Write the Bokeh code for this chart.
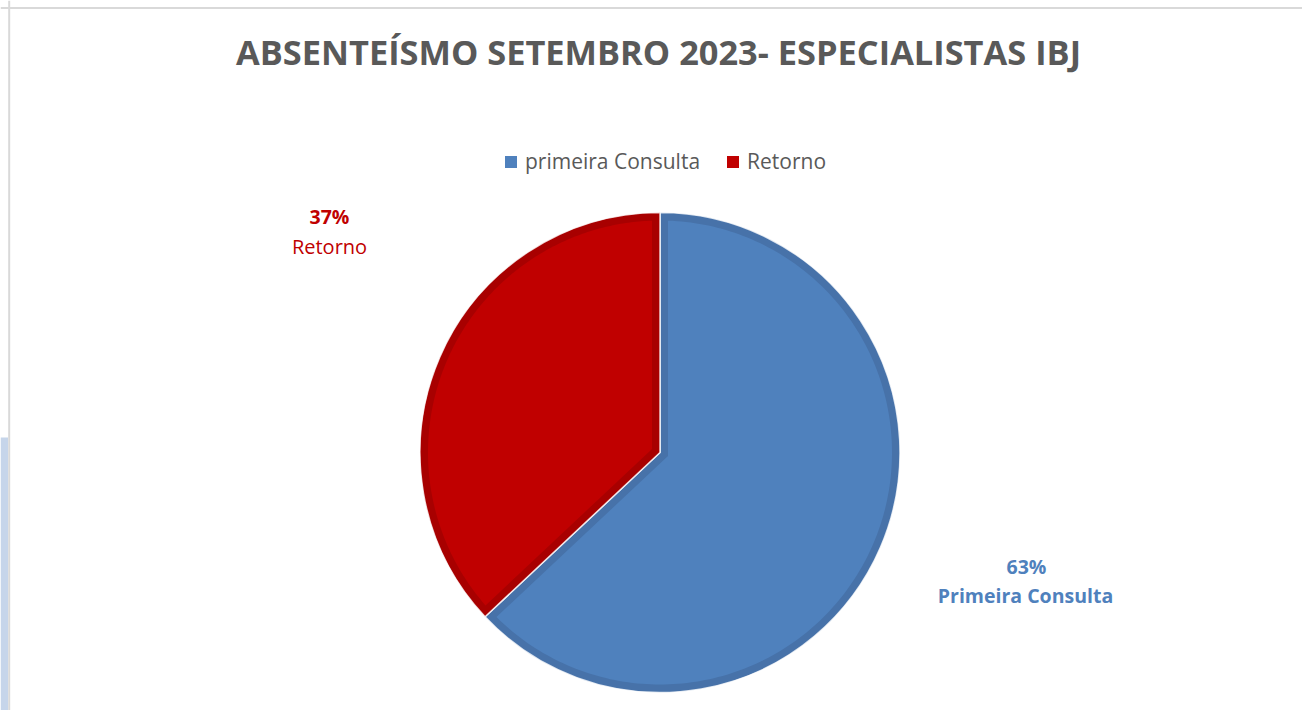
import numpy as np
from bokeh.plotting import figure
from bokeh.models import Range1d, Span, Label, Legend, LegendItem, ColumnDataSource
from bokeh.core.properties import value
from bokeh.embed import file_html
from bokeh.resources import INLINE

# ---- data ----
categories = ["primeira Consulta", "Retorno"]
values = [63, 37]
label_names = ["Primeira Consulta", "Retorno"]
colors = ["#4F81BD", "#C00000"]
edge_colors = ["#4772A9", "#A80000"]
label_colors = ["#4F81BD", "#C00000"]
title_text = "ABSENTEÍSMO SETEMBRO 2023- ESPECIALISTAS IBJ"

# ---- layout ----
W, H = 1302, 710
CX, CY, R = 659.5, 258.0, 240.0
INSET = 8.0
pct_pos = [(1026, 144), (329, 494)]
name_pos = [(1025, 115), (329, 464)]
name_style = ["bold", "normal"]
name_size = ["19.5px", "20px"]

p = figure(width=W, height=H, x_range=Range1d(0, W), y_range=Range1d(0, H),
           output_backend="svg", toolbar_location=None, min_border=0)
p.axis.visible = False
p.grid.visible = False
p.outline_line_color = None
p.background_fill_color = "white"
p.border_fill_color = "white"

# page-side decoration strip and chart border (left and top)
p.quad(left=0, right=7.5, bottom=-10, top=H - 437, fill_color="#C6D5EA", line_color=None)
p.add_layout(Span(location=8.7, dimension="height", line_color="#D9D9D9", line_width=2))
p.add_layout(Span(location=H - 7.5, dimension="width", line_color="#D9D9D9", line_width=2))

# ---- pie geometry from the values ----
vals = np.array(values, dtype=float)
frac = vals / vals.sum()
cum = np.concatenate([[0.0], np.cumsum(frac)])
start = np.pi / 2 - 2 * np.pi * cum[1:]
end = np.pi / 2 - 2 * np.pi * cum[:-1]

outer = ColumnDataSource(dict(start=start, end=end, color=edge_colors, cat=categories))
p.wedge(x=CX, y=CY, radius=R, start_angle="start", end_angle="end",
        fill_color="color", line_color="white", line_width=1.5, line_alpha=0.8, source=outer)

xs, ys = [], []
r_in = R - INSET
for a0, a1 in zip(start, end):
    half = (a1 - a0) / 2
    mid = (a1 + a0) / 2
    d = INSET / np.sin(half)
    ax, ay = CX + d * np.cos(mid), CY + d * np.sin(mid)
    delta = np.arcsin(INSET / r_in)
    t = np.linspace(a0 + delta, a1 - delta, 200)
    xs.append(np.concatenate([[ax], CX + r_in * np.cos(t)]))
    ys.append(np.concatenate([[ay], CY + r_in * np.sin(t)]))
inner_src = ColumnDataSource(dict(xs=xs, ys=ys, color=colors, cat=categories))
inner = p.patches(xs="xs", ys="ys", fill_color="color", line_color=None, source=inner_src)

# ---- data labels ----
pct_src = ColumnDataSource(dict(
    x=[q[0] for q in pct_pos], y=[q[1] for q in pct_pos],
    text=[f"{int(round(f * 100))}%" for f in frac], color=label_colors))
p.text(x="x", y="y", text="text", text_color="color", source=pct_src,
       text_align="center", text_baseline="middle", text_font=value("Open Sans"),
       text_font_size="19.5px", text_font_style="bold")
for i in range(len(label_names)):
    p.add_layout(Label(x=name_pos[i][0], y=name_pos[i][1], text=label_names[i],
                       text_color=label_colors[i], text_align="center", text_baseline="middle",
                       text_font="Open Sans", text_font_size=name_size[i],
                       text_font_style=name_style[i]))

# ---- title ----
p.add_layout(Label(x=658, y=H - 51, text=title_text, text_align="center", text_baseline="middle",
                   text_font="Open Sans", text_font_size="34.4px", text_font_style="bold",
                   text_color="#595959"))

# ---- legend ----
legend = Legend(items=[LegendItem(label=categories[i], renderers=[inner], index=i)
                       for i in range(len(categories))],
                orientation="horizontal", location=(503, 535),
                glyph_width=15, glyph_height=15, label_standoff=7, spacing=25,
                padding=0, margin=0, border_line_color=None, background_fill_alpha=0,
                label_text_font="Open Sans", label_text_font_size="21px",
                label_text_color="#595959", label_height=20)
p.add_layout(legend, "center")

open("out.html", "w").write(file_html(p, INLINE))
